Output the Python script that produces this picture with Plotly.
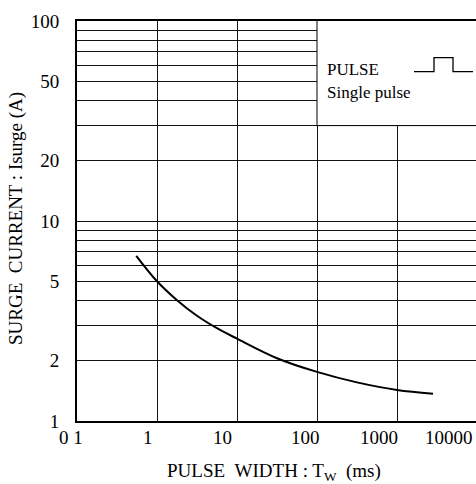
import math
import plotly.graph_objects as go

# ---- data ----
pulse_width_ms = [0.55, 1.0, 1.78, 3.16, 5.62, 10, 31.6, 100, 316, 1000, 2820]
surge_current_a = [6.7, 5.0, 4.02, 3.36, 2.91, 2.58, 2.06, 1.76, 1.56, 1.43, 1.37]

x_tick_vals = [0.1, 1, 10, 100, 1000, 10000]
x_tick_text = ["0 1", "1", "10", "100", "1000", "10000"]

y_grid_vals = [1, 2, 3, 4, 5, 6, 7, 8, 9, 10, 20, 30, 40, 50, 60, 70, 80, 90, 100]
y_label_vals = [1, 2, 5, 10, 20, 50, 100]

# label placement tweaks (pixels, right edge relative to tick) - style only
x_label_shift = [8, -2, -3, 5, 3, -2]

W, H = 476, 484
ML, MT, MB = 77, 21, 63
PW = W - ML
PH = H - MT - MB
XR = [-1, -1 + PW / 80.0]
FONT = "Liberation Serif, Times New Roman, serif"


def px_x(px):
    return (px - ML) / PW


def px_y(py):
    return (MT + PH - py) / PH


fig = go.Figure()
fig.add_trace(go.Scatter(
    x=pulse_width_ms, y=surge_current_a, mode="lines",
    line=dict(color="black", width=2, shape="spline", smoothing=1.0),
    hoverinfo="skip", showlegend=False))

fig.update_layout(
    width=W, height=H,
    margin=dict(l=ML, r=0, t=MT, b=MB, pad=0),
    paper_bgcolor="white", plot_bgcolor="white",
    font=dict(family=FONT, color="black", size=19),
    showlegend=False,
)

fig.update_xaxes(
    type="log", range=XR,
    tickvals=x_tick_vals[:-1], showticklabels=False, ticks="",
    showgrid=True, gridcolor="#111", gridwidth=1,
    showline=True, linecolor="black", linewidth=2, mirror=True,
    zeroline=False,
)
fig.update_yaxes(
    type="log", range=[0, 2],
    tickvals=y_grid_vals,
    ticktext=[(str(v) if v in y_label_vals else " ") for v in y_grid_vals],
    ticks="", ticklabelstandoff=12,
    tickfont=dict(family=FONT, size=19, color="black"),
    showgrid=True, gridcolor="#111", gridwidth=1,
    showline=True, linecolor="black", linewidth=2, mirror=False,
    zeroline=False,
)

# white box hiding the grid behind the pulse legend
fig.add_shape(type="rect", xref="x", yref="y", x0=100, x1=1e6, y0=30, y1=1000,
              fillcolor="white", line=dict(color="black", width=1), layer="between")

# x tick labels
for v, t, s in zip(x_tick_vals, x_tick_text, x_label_shift):
    fig.add_annotation(xref="paper", yref="paper",
                       x=(math.log10(v) - XR[0]) / (XR[1] - XR[0]), y=px_y(437.5),
                       text=t, showarrow=False, xanchor="right", yanchor="middle",
                       xshift=s, font=dict(family=FONT, size=19, color="black"))

# axis titles
fig.add_annotation(xref="paper", yref="paper", x=px_x(274), y=px_y(472),
                   text="PULSE&nbsp;&nbsp;WIDTH : T<sub>W</sub>&nbsp;&nbsp;(ms)",
                   showarrow=False, xanchor="center", yanchor="middle",
                   font=dict(family=FONT, size=19, color="black"))
fig.add_annotation(xref="paper", yref="paper", x=px_x(16), y=px_y(219),
                   text="SURGE&nbsp;&nbsp;CURRENT : Isurge (A)", textangle=-90,
                   showarrow=False, xanchor="center", yanchor="middle",
                   font=dict(family=FONT, size=19, color="black"))

# pulse legend text
fig.add_annotation(xref="paper", yref="paper", x=px_x(325), y=px_y(69),
                   text="PULSE", showarrow=False, xanchor="left", yanchor="middle",
                   font=dict(family=FONT, size=17, color="black"))
fig.add_annotation(xref="paper", yref="paper", x=px_x(325), y=px_y(92),
                   text="Single pulse", showarrow=False, xanchor="left", yanchor="middle",
                   font=dict(family=FONT, size=17, color="black"))

# pulse symbol
pts = [(414, 71.7), (434, 71.7), (434, 57.7), (453, 57.7), (453, 71.7), (473, 71.7)]
path = "M " + " L ".join(f"{px_x(a):.5f},{px_y(b):.5f}" for a, b in pts)
fig.add_shape(type="path", xref="paper", yref="paper", path=path,
              line=dict(color="black", width=1.3), layer="above")

fig.write_html("out.html")
